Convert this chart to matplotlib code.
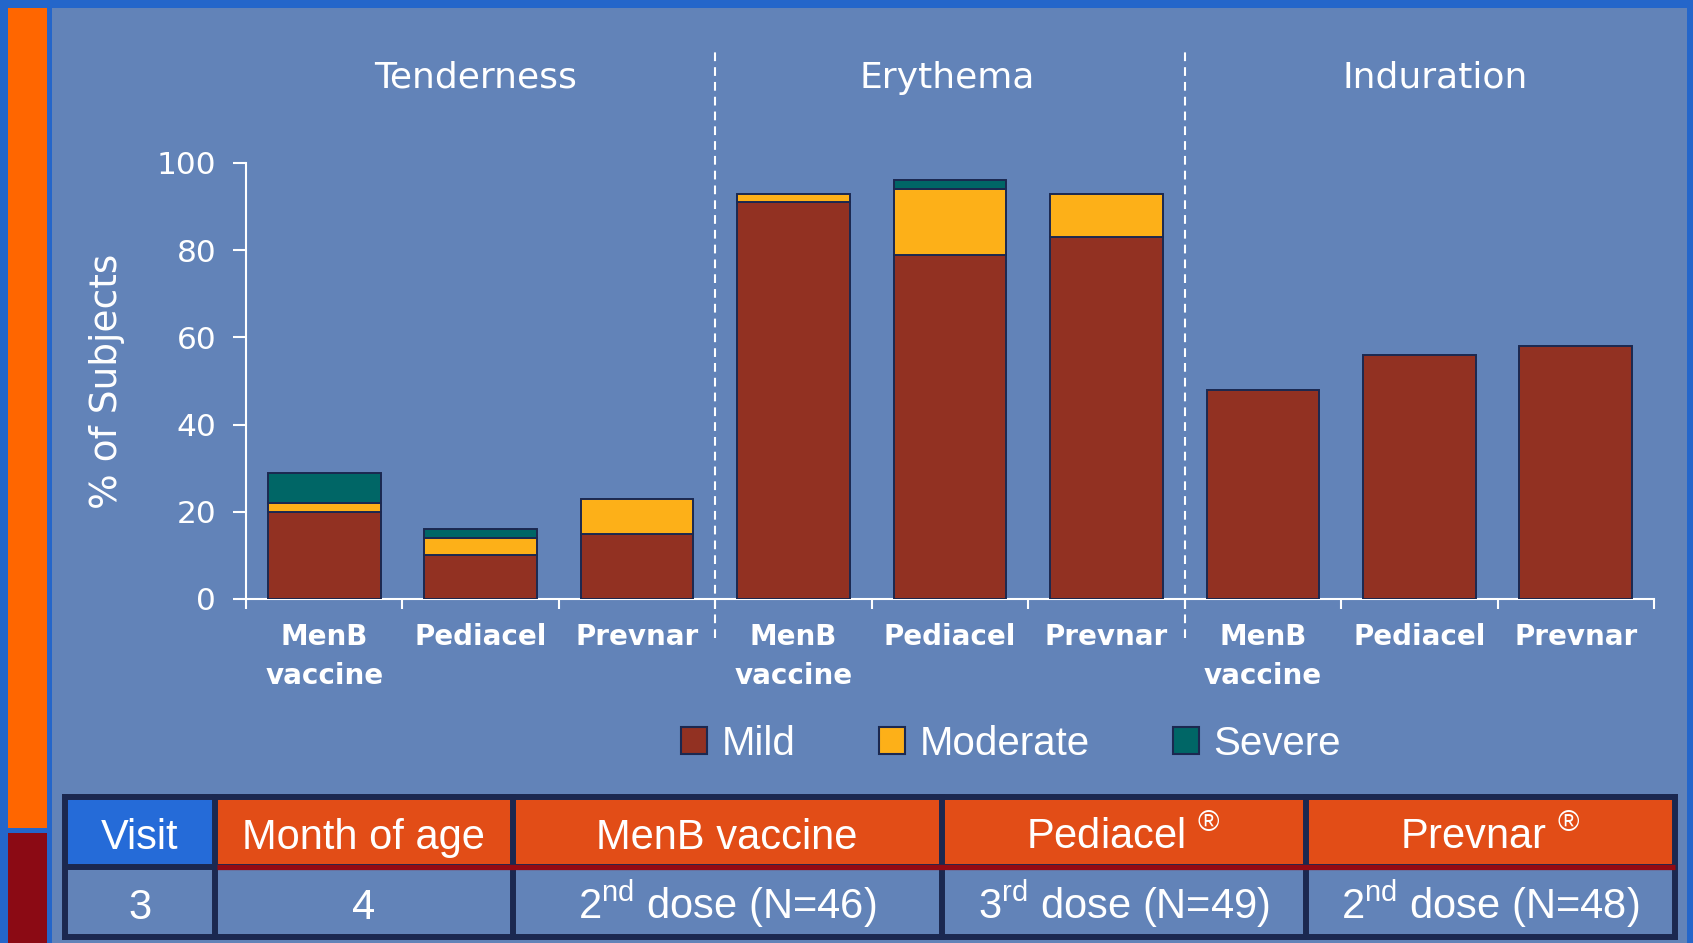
import numpy as np
import matplotlib
matplotlib.use('Agg')
import matplotlib.pyplot as plt
from matplotlib.patches import Rectangle, Patch

plt.rcParams['font.family'] = ['DejaVu Sans']
plt.rcParams['mathtext.fontset'] = 'custom'
plt.rcParams['mathtext.rm'] = 'Liberation Sans'
plt.rcParams['mathtext.it'] = 'Liberation Sans:italic'
plt.rcParams['mathtext.bf'] = 'Liberation Sans:bold'

# data
categories = ['MenB\nvaccine', 'Pediacel', 'Prevnar'] * 3
groups = ['Tenderness', 'Erythema', 'Induration']
mild = [20, 10, 15, 91, 79, 83, 48, 56, 58]
moderate = [2, 4, 8, 2, 15, 10, 0, 0, 0]
severe = [7, 2, 0, 0, 2, 0, 0, 0, 0]
series_names = ['Mild', 'Moderate', 'Severe']
series_colors = ['#923122', '#FDB018', '#006666']

table_header = ['Visit', 'Month of age', 'MenB vaccine',
                r'Pediacel $^{\mathrm{®}}$', r'Prevnar $^{\mathrm{®}}$']
table_row = ['3', '4', r'2$^{\mathrm{nd}}$ dose (N=46)',
             r'3$^{\mathrm{rd}}$ dose (N=49)', r'2$^{\mathrm{nd}}$ dose (N=48)']

W, H = 1693, 943
navy = '#1B2850'
panel = '#6283B8'

fig = plt.figure(figsize=(W / 100, H / 100), dpi=100)
fig.patch.set_facecolor('#2466CA')

# background + table drawn in pixel coordinates
bg = fig.add_axes([0, 0, 1, 1], zorder=0)
bg.set_xlim(0, W)
bg.set_ylim(H, 0)
bg.axis('off')
bg.add_patch(Rectangle((8, 8), 39, 820, color='#FF6600', lw=0))
bg.add_patch(Rectangle((8, 833), 39, 120, color='#8B0A14', lw=0))
bg.add_patch(Rectangle((52, 8), 1635, 940, color=panel, lw=0))

col_x = [65, 215, 512.5, 941.5, 1306, 1674.5]
row_y = [797, 867, 937]
for i in range(5):
    c = '#256BD8' if i == 0 else '#E24D17'
    bg.add_patch(Rectangle((col_x[i], row_y[0]), col_x[i + 1] - col_x[i],
                           row_y[1] - row_y[0], color=c, lw=0))
bg.plot([col_x[0], col_x[-1]], [row_y[1], row_y[1]], color=navy, lw=4.3,
        solid_capstyle='butt')
for x in col_x:
    bg.plot([x, x], [row_y[0], row_y[2]], color=navy, lw=4.3,
            solid_capstyle='projecting')
for y in (row_y[0], row_y[2]):
    bg.plot([col_x[0], col_x[-1]], [y, y], color=navy, lw=4.3,
            solid_capstyle='projecting')
bg.plot([col_x[1] + 2, col_x[-1]], [row_y[1], row_y[1]], color='#930A14',
        lw=3.8, solid_capstyle='butt')

for i in range(5):
    cx = (col_x[i] + col_x[i + 1]) / 2
    bg.text(cx, 849, table_header[i], ha='center', va='baseline', color='white',
            fontsize=30, family='Liberation Sans')
    bg.text(cx, 919, table_row[i], ha='center', va='baseline', color='white',
            fontsize=30, family='Liberation Sans')

# main chart
ax = fig.add_axes([246 / W, (H - 599) / H, (1654 - 246) / W, 436 / H], zorder=2)
ax.patch.set_alpha(0)
x = np.arange(len(categories))
bottom = np.zeros(len(categories))
for vals, name, col in zip([mild, moderate, severe], series_names, series_colors):
    vals = np.array(vals, dtype=float)
    keep = vals > 0
    ax.bar(x[keep], vals[keep], 0.72, bottom=bottom[keep], color=col,
           edgecolor=navy, linewidth=1.4, zorder=3)
    bottom += vals

ax.set_xlim(-0.5, 8.5)
ax.set_ylim(0, 100)
for s in ['top', 'right']:
    ax.spines[s].set_visible(False)
for s in ['left', 'bottom']:
    ax.spines[s].set_color('white')
    ax.spines[s].set_linewidth(1.5)
ax.spines['left'].set_bounds(0, 100)

ax.set_yticks(np.arange(0, 101, 20))
ax.tick_params(axis='y', colors='white', labelsize=22.5, length=9.4, width=1.5, pad=12)
ax.set_xticks(x)
ax.set_xticklabels(categories, fontsize=20, fontweight='bold', color='white',
                   linespacing=1.5)
ax.set_xticks(np.arange(-0.5, 9, 1), minor=True)
ax.tick_params(axis='x', which='major', length=0, pad=17.5)
ax.tick_params(axis='x', which='minor', length=7.2, width=1.5, color='white')

for sep in (2.5, 5.5):
    ln, = ax.plot([sep, sep], [-9, 126], color='white', lw=1.5, clip_on=False)
    ln.set_dashes((4.2, 2.9))

title_x = [0.97, 3.98, 7.1]
for gi, g in enumerate(groups):
    ax.text(title_x[gi], 117.3, g, ha='center', va='baseline', fontsize=26,
            color='white', clip_on=False)

fig.text(107 / W, 1 - 381 / H, '% of Subjects', rotation=90, ha='center',
         va='center', fontsize=27, color='white')

handles = [Patch(facecolor=c, edgecolor=navy, linewidth=1.5) for c in series_colors]
leg = fig.legend(handles, series_names, loc='center', bbox_to_anchor=(1011 / W, 1 - 744 / H),
                 ncol=3, frameon=False, handlelength=0.65, handleheight=0.65,
                 handletextpad=0.35, columnspacing=2.08,
                 prop={'family': 'Liberation Sans', 'size': 29})
for t in leg.get_texts():
    t.set_color('white')

fig.savefig('out.png', dpi=100, facecolor=fig.get_facecolor())
